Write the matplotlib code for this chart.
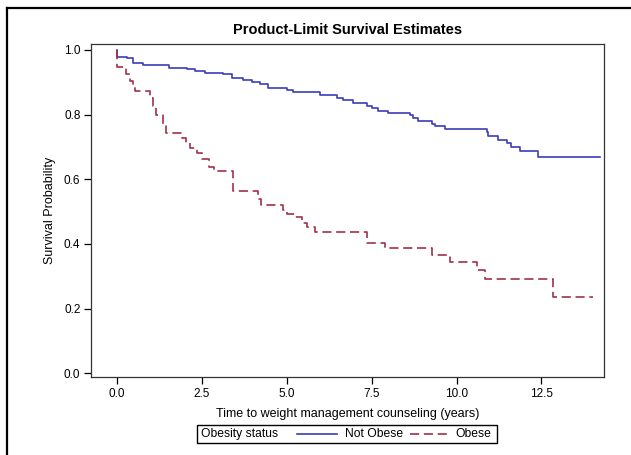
import matplotlib
matplotlib.use("Agg")
from matplotlib import pyplot as plt
from matplotlib.lines import Line2D
from matplotlib.patches import Rectangle

# Kaplan-Meier step estimates
not_obese_time = [0.0, 0.0, 0.29, 0.47, 0.77, 1.53, 2.06, 2.30, 2.59, 3.13, 3.39, 3.71, 3.98,
                  4.22, 4.45, 5.01, 5.19, 5.99, 6.49, 6.66, 6.95, 7.37, 7.52, 7.69, 7.99,
                  8.64, 8.73, 8.87, 9.29, 9.37, 9.67, 10.91, 10.94, 11.23, 11.50, 11.59,
                  11.88, 12.41, 14.21]
not_obese_surv = [1.0, 0.978, 0.974, 0.958, 0.952, 0.945, 0.940, 0.934, 0.928, 0.924, 0.912,
                  0.906, 0.900, 0.893, 0.883, 0.876, 0.870, 0.861, 0.852, 0.845, 0.836,
                  0.825, 0.820, 0.811, 0.804, 0.797, 0.789, 0.781, 0.770, 0.763, 0.755,
                  0.745, 0.734, 0.722, 0.711, 0.699, 0.686, 0.669, 0.669]

obese_time = [0.0, 0.0, 0.27, 0.38, 0.48, 0.55, 0.97, 1.08, 1.15, 1.35, 1.45, 1.92, 2.05,
              2.15, 2.36, 2.50, 2.71, 2.85, 3.42, 4.16, 4.25, 4.89, 5.00, 5.25, 5.45, 5.60,
              5.85, 7.37, 7.90, 9.29, 9.82, 10.61, 10.85, 12.85, 14.03]
obese_surv = [1.0, 0.948, 0.925, 0.905, 0.885, 0.872, 0.851, 0.825, 0.800, 0.770, 0.744,
              0.728, 0.712, 0.697, 0.681, 0.662, 0.637, 0.624, 0.563, 0.540, 0.521, 0.506,
              0.493, 0.482, 0.466, 0.451, 0.438, 0.403, 0.386, 0.367, 0.345, 0.319, 0.293,
              0.237, 0.237]

x_ticks = [0.0, 2.5, 5.0, 7.5, 10.0, 12.5]
y_ticks = [0.0, 0.2, 0.4, 0.6, 0.8, 1.0]

plt.rcParams['font.family'] = ['Liberation Sans Narrow', 'Liberation Sans', 'DejaVu Sans']

blue = '#3c3cbc'
red = '#a3304a'
red_dash = (5.5, 2.8)

fig = plt.figure(figsize=(6.31, 4.55), dpi=100)
ax = fig.add_axes([91.5 / 631, 1 - 376.7 / 455, (604 - 91.5) / 631, (376.7 - 44) / 455])

ax.plot(not_obese_time, not_obese_surv, drawstyle='steps-post', color=blue, lw=1.2)
ax.plot(obese_time, obese_surv, drawstyle='steps-post', color=red, lw=1.2, dashes=red_dash)

ax.set_xlim(-0.74, 14.34)
ax.set_ylim(-0.0105, 1.018)
ax.set_xticks(x_ticks)
ax.set_xticklabels(['%.1f' % v for v in x_ticks])
ax.set_yticks(y_ticks)
ax.set_yticklabels(['%.1f' % v for v in y_ticks])
ax.tick_params(direction='out', length=5, width=0.9, labelsize=8.5, pad=3)
for s in ax.spines.values():
    s.set_linewidth(0.9)
    s.set_color('#333333')

ax.set_title('Product-Limit Survival Estimates', fontsize=10.5, fontweight='bold', pad=7)
ax.set_xlabel('Time to weight management counseling (years)', fontsize=9, labelpad=6)
ax.set_ylabel('Survival Probability', fontsize=9, labelpad=6)

# legend box drawn by hand, SAS style
W, H = 631.0, 455.0
fig.add_artist(Rectangle((197 / W, 1 - 443 / H), 300 / W, 18 / H, transform=fig.transFigure,
                         fill=False, edgecolor='black', lw=1.0))
ty = 1 - 434 / H
fig.text(201 / W, ty, 'Obesity status', fontsize=8.7, va='center', ha='left')
fig.add_artist(Line2D([297 / W, 337 / W], [ty, ty], transform=fig.transFigure, color=blue, lw=1.2))
fig.text(345 / W, ty, 'Not Obese', fontsize=8.7, va='center', ha='left')
fig.add_artist(Line2D([410 / W, 449 / W], [ty, ty], transform=fig.transFigure, color=red, lw=1.2,
                      dashes=red_dash))
fig.text(491 / W, ty, 'Obese', fontsize=8.7, va='center', ha='right')

# outer frame (cut off at the right and bottom)
fig.add_artist(Line2D([7 / W, 7 / W], [1 - 8 / H, 0], transform=fig.transFigure, color='black', lw=1.6))
fig.add_artist(Line2D([7 / W, 1], [1 - 8 / H, 1 - 8 / H], transform=fig.transFigure, color='black', lw=1.6))

fig.savefig('out.png', dpi=100)
